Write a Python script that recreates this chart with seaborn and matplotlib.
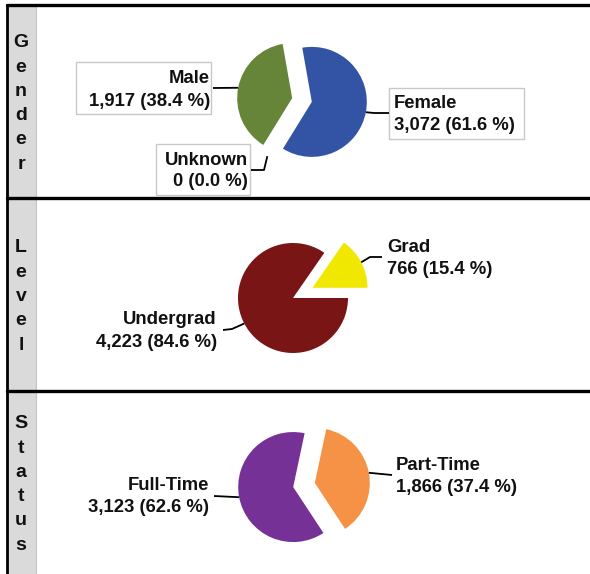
import numpy as np
import seaborn as sns
import matplotlib
matplotlib.use("Agg")
from matplotlib import pyplot as plt
from matplotlib.patches import Rectangle

# chart data
gender_labels = ["Female", "Unknown", "Male"]
gender_counts = [3072, 0, 1917]
gender_colors = ["#3354a4", "#999999", "#668539"]

level_labels = ["Grad", "Undergrad"]
level_counts = [766, 4223]
level_colors = ["#f0e800", "#7a1515"]

status_labels = ["Part-Time", "Full-Time"]
status_counts = [1866, 3123]
status_colors = ["#f69246", "#763196"]

panel_names = ["Gender", "Level", "Status"]

sns.set_theme(style="white")
plt.rcParams["font.family"] = ["Liberation Sans", "DejaVu Sans"]

W, H = 590, 574
fig = plt.figure(figsize=(W / 100, H / 100), dpi=100)
ax = fig.add_axes([0, 0, 1, 1])


def iy(y):
    # image pixel row -> data y (origin at bottom)
    return H - y


def draw_pie(counts, labels, colors, center, radius, startangle, counterclock, explode, specs):
    total = sum(counts)
    wedges, _ = ax.pie(
        counts,
        colors=colors,
        startangle=startangle,
        counterclock=counterclock,
        explode=explode,
        center=(center[0], iy(center[1])),
        radius=radius,
        wedgeprops={"linewidth": 0},
    )
    for w, lab, n, spec in zip(wedges, labels, counts, specs):
        mid = np.deg2rad((w.theta1 + w.theta2) / 2)
        rr = w.r * spec.get("rfac", 1.0)
        x0 = w.center[0] + rr * np.cos(mid)
        y0 = w.center[1] + rr * np.sin(mid)
        xs = [x0] + [p[0] for p in spec["line"]]
        ys = [y0] + [iy(p[1]) for p in spec["line"]]
        ax.plot(xs, ys, color="black", lw=1.3, solid_capstyle="butt", zorder=4)
        if "box" in spec:
            bx, by, bw, bh = spec["box"]
            ax.add_patch(Rectangle((bx, iy(by + bh)), bw, bh, facecolor="white",
                                   edgecolor="#c8c8c8", lw=1.0, zorder=3))
        tx, b1, b2 = spec["text"]
        ha = spec["ha"]
        value = f"{n:,} ({100 * n / total:.1f} %)"
        ax.text(tx, iy(b1), lab, ha=ha, va="baseline", fontsize=13.3,
                fontweight="bold", color="#111111", zorder=5)
        ax.text(tx, iy(b2), value, ha=ha, va="baseline", fontsize=13.3,
                fontweight="bold", color="#111111", zorder=5)


# gray strip and frame lines
ax.add_patch(Rectangle((8, 0), 28, iy(5), facecolor="#dadada", edgecolor="none", zorder=1))
ax.plot([36, 36], [0, iy(5)], color="#c4c4c4", lw=0.8, zorder=1)
ax.plot([7, W], [iy(5), iy(5)], color="black", lw=2.4, zorder=6)
ax.plot([7, 7], [0, iy(5)], color="black", lw=2.0, zorder=6)
for yy in [198, 391]:
    ax.plot([7, W], [iy(yy), iy(yy)], color="black", lw=2.4, zorder=6)

# vertical side titles
centers = [101.5, 294.5, 482.5]
for name, cy in zip(panel_names, centers):
    step = 24.3
    first = cy + 6.5 - (len(name) - 1) / 2 * step
    for i, ch in enumerate(name):
        ax.text(21, iy(first + i * step), ch, ha="center", va="baseline",
                fontsize=14, fontweight="bold", color="#111111", zorder=5)

draw_pie(
    gender_counts, gender_labels, gender_colors,
    center=(302, 100), radius=55, startangle=100, counterclock=False,
    explode=[10, 0, 10],
    specs=[
        {"line": [(374, 113), (389, 113)], "text": (394, 108, 130), "ha": "left",
         "box": (389, 88, 135, 51)},
        {"line": [(264, 170), (251, 170)], "text": (248, 165, 186), "ha": "right",
         "box": (156, 144, 94, 51), "rfac": 1.2},
        {"line": [(213, 88)], "text": (210, 83, 106), "ha": "right",
         "box": (76, 62, 135, 52)},
    ],
)

draw_pie(
    level_counts, level_labels, level_colors,
    center=(293, 298), radius=55, startangle=0, counterclock=True,
    explode=[22, 0],
    specs=[
        {"line": [(370, 257), (382, 257)], "text": (387, 252, 274), "ha": "left"},
        {"line": [(232, 329), (223, 330)], "text": (217, 324, 347), "ha": "right"},
    ],
)

draw_pie(
    status_counts, status_labels, status_colors,
    center=(304, 485), radius=55, startangle=78, counterclock=False,
    explode=[11, 11],
    specs=[
        {"line": [(392, 475)], "text": (396, 470, 492), "ha": "left"},
        {"line": [(214, 496)], "text": (209, 490, 512), "ha": "right"},
    ],
)

ax.set_xlim(0, W)
ax.set_ylim(0, H)
ax.set_aspect("auto")
ax.axis("off")

fig.savefig("out.png", dpi=100, facecolor="white")
